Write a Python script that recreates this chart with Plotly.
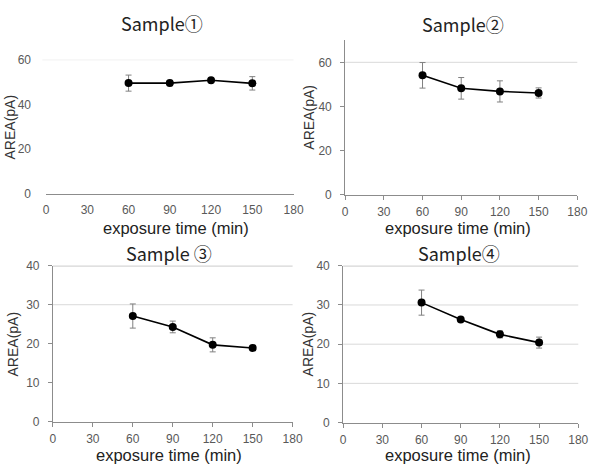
import plotly.graph_objects as go

W, H = 601, 471

time_min = [60, 90, 120, 150]
s1 = [49.5, 49.5, 50.8, 49.4]
e1 = [3.6, 1.2, 0.6, 3.0]
s2 = [54.1, 48.2, 46.8, 46.1]
e2 = [5.8, 4.9, 4.8, 2.3]
s3 = [27.1, 24.3, 19.7, 18.9]
e3 = [3.1, 1.5, 1.8, 0.5]
s4 = [30.6, 26.3, 22.5, 20.4]
e4 = [3.2, 0.5, 0.9, 1.4]

titles = ["Sample①", "Sample②", "Sample ③", "Sample④"]
x_ticks = [0, 30, 60, 90, 120, 150, 180]
y_ticks_top = [0, 20, 40, 60]
y_ticks_bottom = [0, 10, 20, 30, 40]
x_title = "exposure time (min)"
y_title = "AREA(pA)"

TFONT = "Noto Sans CJK JP, DejaVu Sans, sans-serif"
FONT = "Liberation Sans, Arial, sans-serif"
TICKC = "#595959"
AXC = "#8c8c8c"
GRIDC = "#d9d9d9"

def fx(px):
    return px / W

def fy(py):
    return 1 - py / H

# panel geometry (pixels): x0, x1, y_bottom, y_top
panels = [
    dict(x=(44, 297), y=(192.3, 54.3), yr=[0, 60], yt=y_ticks_top, yline=False, grid=[60], top=None,
         data=s1, err=e1, title_xy=(163, 16), ytitle_x=7, xtitle_y=228, xcenter=177, xstand=5),
    dict(x=(349.7, 587), y=(193.3, 34.3), yr=[0, 70], yt=y_ticks_top, yline=True, grid=[60], top=None,
         data=s2, err=e2, title_xy=(470, 18), ytitle_x=313, xtitle_y=228, xcenter=465, xstand=2),
    dict(x=(51, 296), y=(427.3, 266.7), yr=[0, 40], yt=y_ticks_bottom, yline=True, grid=[30], top=40,
         data=s3, err=e3, title_xy=(170, 254), ytitle_x=10, xtitle_y=462, xcenter=170, xstand=2),
    dict(x=(347.7, 588), y=(428.3, 266.7), yr=[0, 40], yt=y_ticks_bottom, yline=True, grid=[10, 20, 30], top=40,
         data=s4, err=e4, title_xy=(466, 254), ytitle_x=312, xtitle_y=462, xcenter=465, xstand=2),
]

fig = go.Figure()
annotations = []
shapes = []

for i, p in enumerate(panels, start=1):
    xa = "x" if i == 1 else f"x{i}"
    ya = "y" if i == 1 else f"y{i}"
    fig.add_trace(go.Scatter(
        x=time_min, y=p["data"], mode="lines+markers",
        line=dict(color="black", width=1.6),
        marker=dict(color="black", size=8),
        error_y=dict(type="data", array=p["err"], visible=True,
                     color="#808080", thickness=1, width=3),
        xaxis=xa, yaxis=ya, showlegend=False,
    ))
    xkey = "xaxis" if i == 1 else f"xaxis{i}"
    ykey = "yaxis" if i == 1 else f"yaxis{i}"
    fig.layout[xkey] = dict(
        domain=[fx(p["x"][0]), fx(p["x"][1])], range=[0, 180],
        tickvals=x_ticks, showgrid=False, zeroline=False,
        showline=True, linecolor=AXC, linewidth=1,
        ticks="" if i == 1 else "outside", ticklen=4, tickcolor=AXC,
        ticklabelstandoff=p["xstand"],
        tickfont=dict(family=FONT, size=12, color=TICKC),
        anchor=ya, fixedrange=True,
    )
    fig.layout[ykey] = dict(
        domain=[fy(p["y"][0]), fy(p["y"][1])], range=p["yr"],
        tickvals=p["yt"], showgrid=False, zeroline=False,
        showline=p["yline"], linecolor=AXC, linewidth=1,
        ticks="outside" if p["yline"] else "", ticklen=4, tickcolor=AXC,
        ticklabelstandoff=6 if p["yline"] else 14,
        tickfont=dict(family=FONT, size=12, color=TICKC),
        anchor=xa, fixedrange=True,
    )
    for g in p["grid"]:
        shapes.append(dict(type="line", xref=f"{xa} domain", yref=ya,
                           x0=-0.015 if i == 1 else 0, x1=1, y0=g, y1=g,
                           line=dict(color=GRIDC, width=1), layer="below"))
    if p["top"] is not None:
        shapes.append(dict(type="line", xref=f"{xa} domain", yref=ya,
                           x0=0, x1=1, y0=p["top"], y1=p["top"],
                           line=dict(color=AXC, width=1), layer="below"))
    annotations.append(dict(text=titles[i - 1], x=fx(p["title_xy"][0]), y=fy(p["title_xy"][1]),
                            xref="paper", yref="paper", showarrow=False,
                            xanchor="center", yanchor="middle",
                            font=dict(family=TFONT, size=18, color="#222222")))
    annotations.append(dict(text=x_title, x=fx(p["xcenter"]), y=fy(p["xtitle_y"]),
                            xref="paper", yref="paper", showarrow=False,
                            xanchor="center", yanchor="middle",
                            font=dict(family=FONT, size=16.5, color="#222222")))
    ymid = (p["y"][0] + p["y"][1]) / 2
    annotations.append(dict(text=y_title, x=fx(p["ytitle_x"]), y=fy(ymid),
                            xref="paper", yref="paper", showarrow=False, textangle=-90,
                            xanchor="center", yanchor="middle",
                            font=dict(family=FONT, size=14, color="#333333")))

fig.update_layout(
    width=W, height=H, margin=dict(l=0, r=0, t=0, b=0),
    paper_bgcolor="white", plot_bgcolor="white",
    annotations=annotations, shapes=shapes,
)

fig.write_html("out.html")
